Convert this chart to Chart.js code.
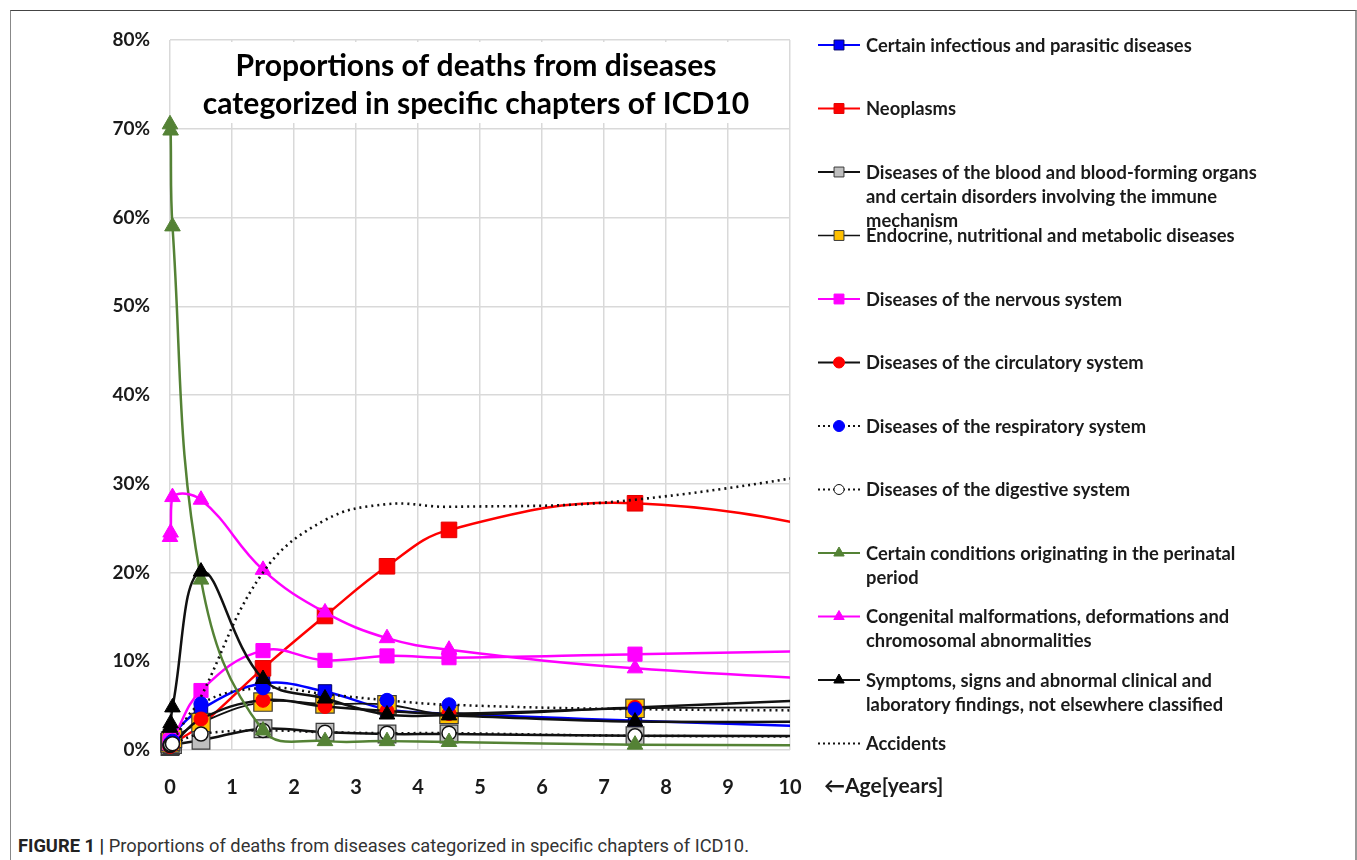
<!DOCTYPE html>
<html>
<head>
<meta charset="utf-8">
<script src="https://cdn.jsdelivr.net/npm/chart.js@4.4.1/dist/chart.umd.min.js"></script>
<style>
  html, body { margin: 0; padding: 0; background: #fff; }
  #frame { position: absolute; left: 10px; top: 10px; width: 1344px; height: 900px;
           border-top: 1px solid #444; border-left: 1px solid #888; border-right: 2px solid #999; }
  #wrap { position: absolute; left: 0; top: 0; width: 1357px; height: 830px; }
  #caption { position: absolute; left: 18px; top: 834px; font-family: "Liberation Sans Narrow", "Roboto", sans-serif;
             font-size: 19px; color: #333; white-space: nowrap; transform: scaleX(0.963); transform-origin: left top; }
  #caption b { color: #222; }
</style>
</head>
<body>
<div id="frame"></div>
<div id="wrap"><canvas id="chart"></canvas></div>
<div id="caption"><b>FIGURE 1 |</b> Proportions of deaths from diseases categorized in specific chapters of ICD10.</div>
<script>
// age points (years); last one lies beyond the axis end
const ages = [0, 0.01, 0.04, 0.5, 1.5, 2.5, 3.5, 4.5, 7.5, 12.5];

// proportions of deaths (%)
const infectious   = [1.2, 1.4, 1.8, 4.6, 7.5, 6.6, 4.6, 4.1, 3.3, 2.2];
const neoplasms    = [0.4, 0.5, 0.7, 2.8, 9.2, 15.1, 20.7, 24.8, 27.8, 22.5];
const blood        = [0.4, 0.5, 0.6, 1.1, 2.4, 2.0, 1.8, 1.8, 1.6, 1.6];
const endocrine    = [0.8, 1.0, 1.3, 3.1, 5.4, 5.2, 5.1, 4.0, 4.7, 4.8];
const nervous      = [0.8, 1.0, 1.2, 6.7, 11.2, 10.1, 10.6, 10.4, 10.8, 11.4];
const circulatory  = [0.4, 0.5, 0.6, 3.5, 5.6, 4.9, 4.4, 4.1, 4.8, 6.3];
const respiratory  = [0.6, 0.8, 1.0, 5.2, 7.0, 6.3, 5.6, 5.1, 4.6, 4.4];
const digestive    = [0.5, 0.6, 0.7, 1.8, 2.2, 2.0, 1.9, 1.9, 1.6, 1.5];
const perinatal    = [70.5, 69.8, 59.0, 19.2, 2.2, 1.0, 1.0, 0.9, 0.6, 0.5];
const congenital   = [24.0, 24.5, 28.5, 28.2, 20.3, 15.5, 12.6, 11.3, 9.2, 7.3];
const symptoms     = [2.5, 3.0, 4.8, 20.1, 8.0, 5.8, 4.0, 3.9, 3.2, 3.3];
const accidents    = [null, null, null, 6.0, 20.0, 25.9, 27.7, 27.4, 28.2, 33.4];

const xTicks = [0, 1, 2, 3, 4, 5, 6, 7, 8, 9, 10];
const yTicks = [0, 10, 20, 30, 40, 50, 60, 70, 80];

const legendLabels = [
  ["Certain infectious and parasitic diseases"],
  ["Neoplasms"],
  ["Diseases of the blood and blood-forming organs", "and certain disorders involving the immune", "mechanism"],
  ["Endocrine, nutritional and metabolic diseases"],
  ["Diseases of the nervous system"],
  ["Diseases of the circulatory system"],
  ["Diseases of the respiratory system"],
  ["Diseases of the digestive system"],
  ["Certain conditions originating in the perinatal", "period"],
  ["Congenital malformations, deformations and", "chromosomal abnormalities"],
  ["Symptoms, signs and abnormal clinical and", "laboratory findings, not elsewhere classified"],
  ["Accidents"]
];

const titleLines = ["Proportions of deaths from diseases", "categorized in specific chapters of ICD10"];
const axisLabel = "\u2190Age[years]";

const FONT = "Lato, 'Open Sans', sans-serif";
const dotted = [2, 4];

function pts(vals) { return ages.map((a, i) => ({ x: a, y: vals[i] })); }

function mk(label, vals, s) {
  return {
    label: label,
    data: pts(vals),
    borderColor: s.line,
    borderWidth: s.lw || 2.5,
    borderDash: s.dash || [],
    pointStyle: s.shape || false,
    pointRadius: s.r || 0,
    pointBackgroundColor: s.fill,
    pointBorderColor: s.edge || s.fill,
    pointBorderWidth: s.ew || 1,
    legendR: s.lr,
    tension: 0.4,
    spanGaps: false,
    clip: { left: 15, top: 10, right: 0, bottom: 15 }
  };
}

const datasets = [
  mk(legendLabels[0][0], infectious,  { line: '#0000ff', shape: 'rect', r: 9.5, fill: '#0000ff', edge: '#00006a', lr: 7 }),
  mk(legendLabels[1][0], neoplasms,   { line: '#ff0000', shape: 'rect', r: 11, fill: '#ff0000', edge: '#e00000', lr: 7 }),
  mk(legendLabels[2].join(' '), blood, { line: '#111', shape: 'rect', r: 12.5, fill: '#bfbfbf', edge: '#3a3a3a', ew: 1.2, lr: 7 }),
  mk(legendLabels[3][0], endocrine,   { line: '#111', lw: 1.8, shape: 'rect', r: 13, fill: '#ffc000', edge: '#3a3a3a', ew: 1.2, lr: 7 }),
  mk(legendLabels[4][0], nervous,     { line: '#ff00ff', shape: 'rect', r: 10, fill: '#ff00ff', lr: 7 }),
  mk(legendLabels[5][0], circulatory, { line: '#111', shape: 'circle', r: 7, fill: '#ff0000', lr: 5.5 }),
  mk(legendLabels[6][0], respiratory, { line: '#111', dash: dotted, shape: 'circle', r: 7, fill: '#0000ff', lr: 5.5 }),
  mk(legendLabels[7][0], digestive,   { line: '#111', dash: dotted, shape: 'circle', r: 7, fill: '#ffffff', edge: '#111', ew: 1.5, lr: 5 }),
  mk(legendLabels[8].join(' '), perinatal, { line: '#548235', shape: 'triangle', r: 9, fill: '#548235', lr: 6 }),
  mk(legendLabels[9].join(' '), congenital, { line: '#ff00ff', shape: 'triangle', r: 9, fill: '#ff00ff', lr: 6 }),
  mk(legendLabels[10].join(' '), symptoms, { line: '#111', shape: 'triangle', r: 9, fill: '#000000', lr: 6 }),
  mk(legendLabels[11][0], accidents,  { line: '#111', dash: dotted, lw: 2.6 })
];
// later series drawn on top, like the original
datasets.forEach((d, i) => { d.order = datasets.length - i; });

function fitText(ctx, text, x, y, sx) {
  ctx.save();
  ctx.translate(x, y);
  ctx.scale(sx, 1);
  ctx.fillText(text, 0, 0);
  ctx.restore();
}

const decor = {
  id: 'decor',
  beforeDatasetsDraw(chart) {
    const ctx = chart.ctx, a = chart.chartArea;
    // title box over the grid
    ctx.save();
    ctx.fillStyle = '#fff';
    ctx.fillRect(a.left + 2, a.top + 2, a.right - a.left - 4, 81);
    ctx.fillStyle = '#000';
    ctx.font = "bold 31px " + FONT;
    ctx.textBaseline = 'alphabetic';
    const cx = 476;
    titleLines.forEach((t, i) => {
      const w = ctx.measureText(t).width * 0.97;
      fitText(ctx, t, cx - w / 2, 76 + i * 38, 0.97);
    });
    ctx.restore();
  },
  afterDraw(chart) {
    const ctx = chart.ctx, a = chart.chartArea;
    ctx.save();
    // axis caption
    ctx.fillStyle = '#1a1a1a';
    ctx.font = "bold 21px " + FONT;
    ctx.textBaseline = 'middle';
    fitText(ctx, axisLabel, a.right + 34, 786, 1.0);
    // legend
    const x0 = a.right + 28, x1 = x0 + 42, tx = x1 + 6;
    chart.data.datasets.forEach((d, i) => {
      const y = 45 + i * 63.5;
      ctx.save();
      ctx.strokeStyle = d.borderColor;
      ctx.lineWidth = i === 3 ? 1.5 : 2.2;
      ctx.setLineDash(d.borderDash.length ? [2, 3] : []);
      ctx.beginPath();
      ctx.moveTo(x0, y); ctx.lineTo(x1, y);
      ctx.stroke();
      ctx.restore();
      if (d.pointStyle) {
        ctx.save();
        ctx.fillStyle = d.pointBackgroundColor;
        ctx.strokeStyle = d.pointBorderColor;
        ctx.lineWidth = 1;
        Chart.helpers.drawPoint(ctx, { pointStyle: d.pointStyle, radius: d.legendR, borderWidth: 1, rotation: 0 }, (x0 + x1) / 2, y);
        ctx.restore();
      }
      ctx.fillStyle = '#1a1a1a';
      ctx.font = "bold 18px " + FONT;
      legendLabels[i].forEach((line, k) => {
        fitText(ctx, line, tx, y + 1 + k * 24, 1.02);
      });
    });
    ctx.restore();
  }
};

new Chart(document.getElementById('chart'), {
  type: 'line',
  data: { datasets: datasets },
  options: {
    responsive: true,
    maintainAspectRatio: false,
    animation: false,
    events: [],
    layout: { padding: { left: 0, right: 567, top: 40, bottom: 30 } },
    plugins: { legend: { display: false }, tooltip: { enabled: false } },
    scales: {
      x: {
        type: 'linear', min: 0, max: 10,
        afterBuildTicks: s => { s.ticks = xTicks.map(v => ({ value: v })); },
        afterFit: s => { s.height = 50; },
        grid: { color: '#d9d9d9', lineWidth: 1.5, drawTicks: false },
        border: { display: false },
        ticks: { autoSkip: false, maxRotation: 0, padding: 26, color: '#1a1a1a',
                 font: { family: FONT, size: 20, weight: 'bold' } }
      },
      y: {
        min: 0, max: 80,
        afterBuildTicks: s => { s.ticks = yTicks.map(v => ({ value: v })); },
        afterFit: s => { s.width = 170; },
        grid: { color: '#d9d9d9', lineWidth: 1.5, drawTicks: false },
        border: { display: false },
        ticks: { padding: 20, color: '#1a1a1a', callback: v => v + '%',
                 font: { family: FONT, size: 19, weight: 'bold' } }
      }
    }
  },
  plugins: [decor]
});
</script>
</body>
</html>
